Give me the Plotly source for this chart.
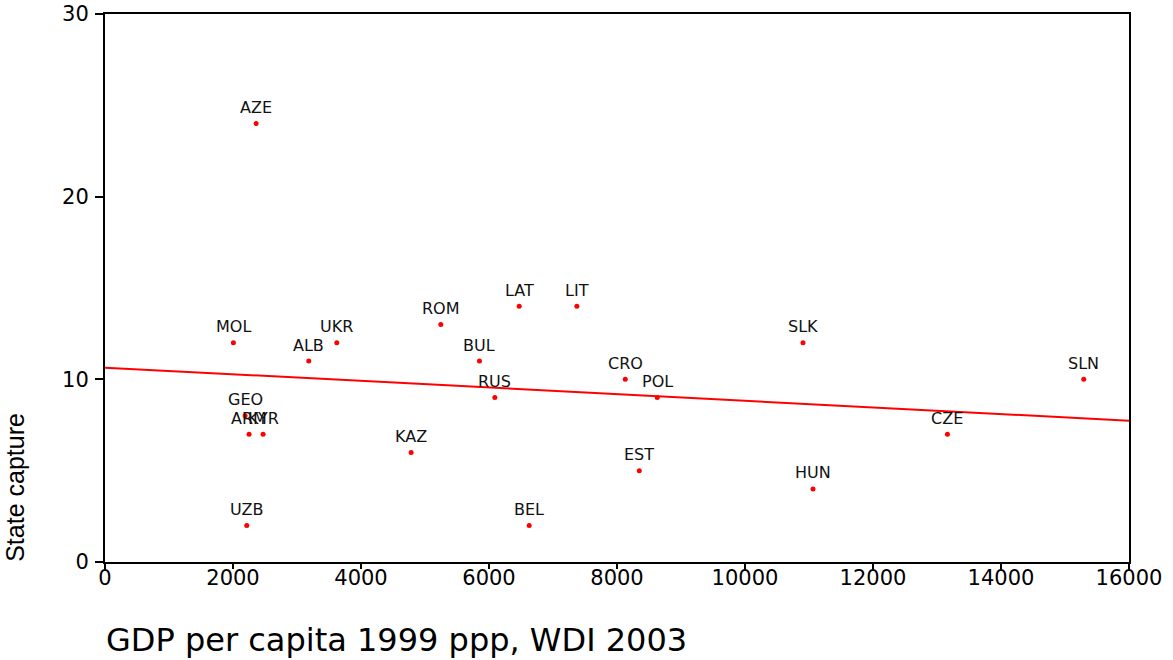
import numpy as np
import plotly.graph_objects as go

countries = ["AZE", "MOL", "UKR", "ALB", "ROM", "LAT", "LIT", "BUL", "RUS", "CRO", "POL",
             "SLK", "SLN", "CZE", "HUN", "EST", "BEL", "UZB", "KAZ", "GEO", "ARM", "KYR"]
gdp = [2361, 2006, 3622, 3184, 5247, 6472, 7373, 5851, 6091, 8129, 8629,
       10906, 15293, 13163, 11063, 8348, 6628, 2215, 4783, 2189, 2251, 2470]
capture = [24, 12, 12, 11, 13, 14, 14, 11, 9, 10, 9,
           12, 10, 7, 4, 5, 2, 2, 6, 8, 7, 7]
x_ticks = [0, 2000, 4000, 6000, 8000, 10000, 12000, 14000, 16000]
x_tick_text = ["0", "2000", "4000", "6000", "8000", "10000", "12000", "14000", "16000"]
y_ticks = [0, 10, 20, 30]
y_tick_text = ["0", "10", "20", "30"]

slope, intercept = np.polyfit(np.array(gdp, float), np.array(capture, float), 1)
fit_x = [x_ticks[0], x_ticks[-1]]
fit_y = [intercept + slope * v for v in fit_x]

fig = go.Figure()
fig.add_trace(go.Scatter(x=fit_x, y=fit_y, mode="lines",
                         line=dict(color="#ff0000", width=2), hoverinfo="skip"))
fig.add_trace(go.Scatter(x=gdp, y=capture, mode="markers", text=countries,
                         marker=dict(color="#ff0000", size=5, symbol="circle")))

for c, xv, yv in zip(countries, gdp, capture):
    fig.add_annotation(x=xv, y=yv, text=c, showarrow=False, yanchor="middle", yshift=16,
                       font=dict(family="DejaVu Sans", size=16, color="#111111"))

fig.add_annotation(xref="paper", yref="paper", x=0, y=-0.1788, xanchor="left", yanchor="bottom",
                   text="GDP per capita 1999 ppp, WDI 2003", showarrow=False, borderpad=0,
                   font=dict(family="DejaVu Sans", size=32, color="#000000"))
fig.add_annotation(xref="paper", yref="paper", x=-0.088, y=0.137, xanchor="center", yanchor="middle",
                   text="State capture", textangle=-90, showarrow=False,
                   font=dict(family="Liberation Sans", size=25, color="#000000"))

axis_common = dict(showgrid=False, zeroline=False, showline=True, linecolor="#000000",
                   linewidth=2, mirror=True, ticks="outside", tickcolor="#000000",
                   tickwidth=2, automargin=False,
                   tickfont=dict(family="DejaVu Sans", size=21, color="#000000"))
fig.update_xaxes(range=[0, 16000], tickvals=x_ticks, ticktext=x_tick_text, ticklen=5,
                 ticklabelstandoff=-9, **axis_common)
fig.update_yaxes(range=[0, 30], tickvals=y_ticks, ticktext=y_tick_text, ticklen=8,
                 ticklabelstandoff=2, **axis_common)

fig.update_layout(width=1173, height=660, showlegend=False,
                  margin=dict(l=105, r=44, t=14, b=98, pad=0),
                  paper_bgcolor="#ffffff", plot_bgcolor="#ffffff")

fig.write_html("out.html", config={"displayModeBar": False},
               post_script="document.body.style.margin='0';document.body.style.overflow='hidden';")
